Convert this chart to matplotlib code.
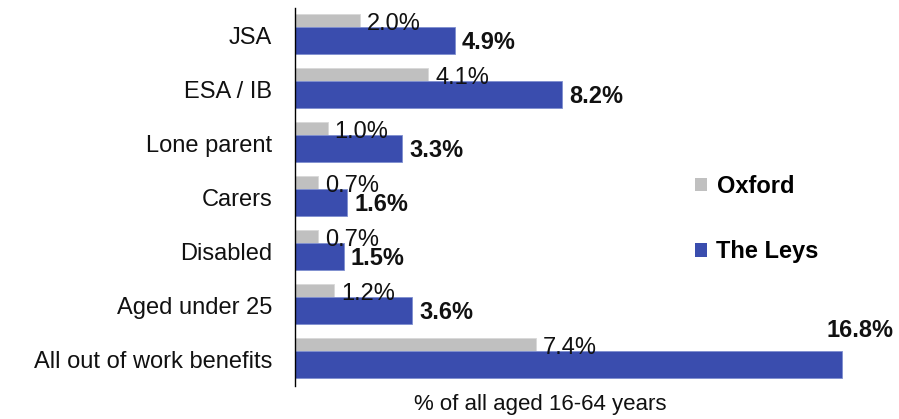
import matplotlib
matplotlib.use("Agg")
import matplotlib.pyplot as plt
from matplotlib.patches import Patch

categories = ["JSA", "ESA / IB", "Lone parent", "Carers", "Disabled",
              "Aged under 25", "All out of work benefits"]
oxford = [2.0, 4.1, 1.0, 0.7, 0.7, 1.2, 7.4]
leys = [4.9, 8.2, 3.3, 1.6, 1.5, 3.6, 16.8]
series_names = ["Oxford", "The Leys"]
xlabel = "% of all aged 16-64 years"

GRAY = "#C0C0C0"
BLUE = "#3A4DAE"
FONT = "Liberation Sans"
FS = 17

plt.rcParams["font.family"] = [FONT, "DejaVu Sans"]

W, H = 899, 419
fig = plt.figure(figsize=(W / 100, H / 100), dpi=100)
left_px, right_px, top_px, bot_px = 295, 880, 8, 386
ax = fig.add_axes([left_px / W, 1 - bot_px / H, (right_px - left_px) / W, (bot_px - top_px) / H])

px_per = (842 - 295) / 16.8
xmax = (right_px - left_px) / px_per
ax.set_xlim(0, xmax)
ax.set_ylim(len(categories) - 0.5, -0.5)

ys = list(range(len(categories)))
ax.barh([y - 0.27 for y in ys], oxford, height=0.24, color=GRAY, edgecolor="#D8D8D8", linewidth=0.6)
ax.barh([y + 0.10 for y in ys], leys, height=0.5, color=BLUE, edgecolor="#7F8FD0", linewidth=0.6)

dx = 7 / px_per
for y, v in zip(ys, oxford):
    ax.text(v + dx, y - 0.20, f"{v:.1f}%", ha="left", va="center", fontsize=FS, color="#111111")
for y, v in zip(ys, leys):
    if v + dx + 2.2 > xmax:
        ax.text(v - 16 / px_per, y - 0.52, f"{v:.1f}%", ha="left", va="center",
                fontsize=FS, fontweight="bold", color="#111111")
    else:
        ax.text(v + dx, y + 0.13, f"{v:.1f}%", ha="left", va="center",
                fontsize=FS, fontweight="bold", color="#111111")

ax.set_yticks(ys)
ax.set_yticklabels(categories, fontsize=FS, color="#111111")
ax.tick_params(axis="y", length=0, pad=16.5)
ax.set_xticks([])
for s in ["top", "right", "bottom"]:
    ax.spines[s].set_visible(False)
ax.spines["left"].set_linewidth(1.0)
ax.spines["left"].set_color("black")

fig.text(540 / W, 1 - 404 / H, xlabel, ha="center", va="center", fontsize=16, color="#111111")

handles = [Patch(facecolor=GRAY, edgecolor="none"), Patch(facecolor=BLUE, edgecolor="none")]
leg = fig.legend(handles, series_names, loc="center left",
                 bbox_to_anchor=(674 / W, 1 - 219 / H), frameon=False,
                 handlelength=0.5, handleheight=0.5, handletextpad=0.4,
                 labelspacing=1.8, prop={"family": FONT, "weight": "bold", "size": FS})

fig.savefig("out.png", dpi=100)
